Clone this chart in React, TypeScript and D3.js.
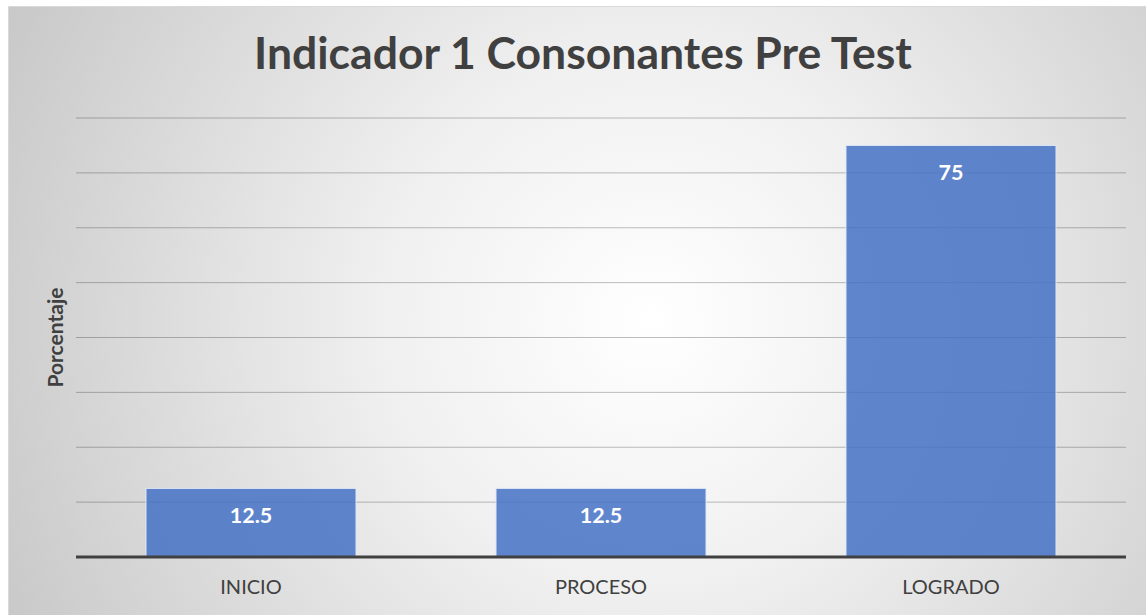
import * as d3 from "d3";
import React from "react";

const categories = ["INICIO", "PROCESO", "LOGRADO"];
const values = [12.5, 12.5, 75];
const yTicks = [0, 10, 20, 30, 40, 50, 60, 70, 80];

const W = 1146;
const H = 615;
const FONT = "Lato, 'Open Sans', sans-serif";

export default function App() {
  const left = 76;
  const right = 1126;
  const top = 118;
  const bottom = 557;

  const x = d3.scaleBand().domain(categories).range([left, right]).paddingInner(0.4).paddingOuter(0.2);
  const y = d3.scaleLinear().domain([0, 80]).range([bottom, top]);

  return (
    <svg width={W} height={H} style={{ position: "absolute", left: 0, top: 0 }}>
      <defs>
        <radialGradient id="bg" gradientUnits="userSpaceOnUse" cx={650} cy={320} r={760}>
          <stop offset="0" stopColor="#ffffff" />
          <stop offset="0.35" stopColor="#f0f0f0" />
          <stop offset="1" stopColor="#c4c4c4" />
        </radialGradient>
      </defs>
      <rect x={8.5} y={6.5} width={W} height={H} fill="url(#bg)" stroke="#d9d9d9" />

      <text x={583} y={58} textAnchor="middle" dominantBaseline="middle" fontFamily={FONT} fontWeight="bold" fontSize={44.5} fill="#404040">
        Indicador 1 Consonantes Pre Test
      </text>

      {yTicks.slice(1).map((t) => (
        <line key={t} x1={left} x2={right} y1={y(t)} y2={y(t)} stroke="rgba(0,0,0,0.25)" strokeWidth={1} />
      ))}

      {categories.map((c, i) => (
        <g key={c}>
          <rect
            x={x(c)}
            y={y(values[i])}
            width={x.bandwidth()}
            height={y(0) - y(values[i])}
            fill="#4472c4"
            fillOpacity={0.85}
            stroke="#dde6f5"
            strokeWidth={1}
          />
          <text
            x={(x(c) ?? 0) + x.bandwidth() / 2}
            y={y(values[i]) + 29}
            textAnchor="middle"
            dominantBaseline="middle"
            fontFamily={FONT}
            fontWeight="bold"
            fontSize={21.5}
            fill="#ffffff"
          >
            {values[i]}
          </text>
          <text
            x={(x(c) ?? 0) + x.bandwidth() / 2}
            y={589}
            textAnchor="middle"
            dominantBaseline="middle"
            fontFamily={FONT}
            fontSize={20}
            fill="#404040"
          >
            {c}
          </text>
        </g>
      ))}

      <line x1={left} x2={right} y1={bottom} y2={bottom} stroke="#404040" strokeWidth={3} />

      <text
        transform={`translate(58,${(top + bottom) / 2}) rotate(-90)`}
        textAnchor="middle"
        dominantBaseline="middle"
        fontFamily={FONT}
        fontWeight="bold"
        fontSize={21}
        fill="#404040"
      >
        Porcentaje
      </text>
    </svg>
  );
}
